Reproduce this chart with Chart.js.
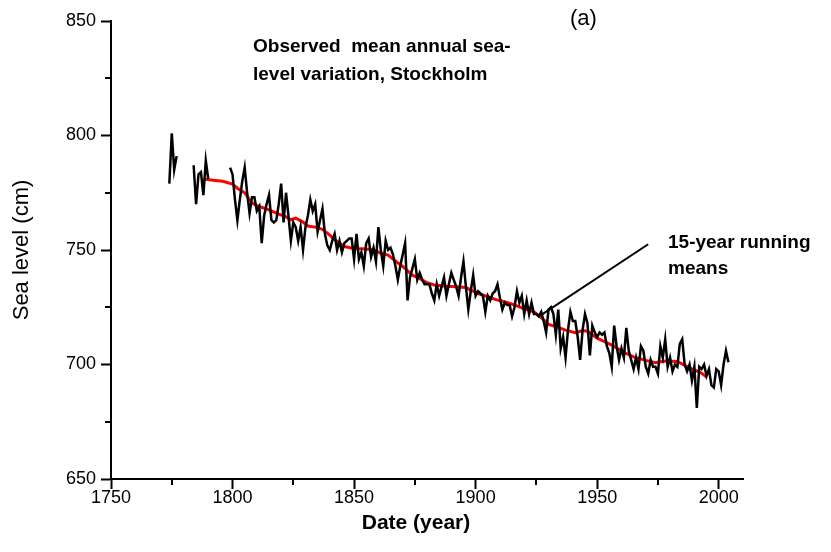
<!DOCTYPE html>
<html>
<head>
<meta charset="utf-8">
<script src="https://cdn.jsdelivr.net/npm/chart.js@4.4.1/dist/chart.umd.min.js"></script>
<style>
    html, body { margin: 0; padding: 0; background: #fff; }
    #wrap { width: 831px; height: 552px; }
</style>
</head>
<body>
<div id="wrap"><canvas id="seaChart" width="831" height="552"></canvas></div>
<script>
// Annual mean sea level (cm), one value per year from firstYear, null = no data
const firstYear = 1774;
const seaLevel = [
    779, 801, 785, 791,
    null, null, null, null, null, null,
    787, 770, 783, 784, 774, 789, 781,
    null, null, null, null, null, null, null, null,
    786, 783, 772, 763, 772, 780, 786, 775, 766, 773, 773,
    767, 769, 753, 765, 770, 774, 763, 762, 763, 770,
    779, 762, 775, 765, 754, 762, 760, 754, 760, 750,
    760, 765, 772, 767, 770, 758, 763, 768, 757, 752,
    750, 754, 757, 750, 754, 749, 753, 754, 755, 755,
    746, 757, 746, 749, 743, 753, 755, 747, 751, 745,
    760, 750, 743, 754, 750, 751, 748, 743, 737, 743,
    748, 753, 728, 738, 742, 746, 737, 740, 737, 735,
    735, 735, 731, 728, 735, 730, 734, 738, 730, 735,
    740, 737, 734, 730, 738, 745, 734, 724, 732, 739,
    730, 732, 731, 730, 723, 730, 728, 731, 732, 735,
    729, 724, 727, 726, 726, 721, 725, 732, 727, 730,
    722, 728, 722, 727, 722, 722, 721, 723, 719, 714,
    724, 725, 722, 713, 724, 707, 712, 703, 715, 723,
    719, 719, 712, 702, 715, 722, 718, 704, 717, 714,
    712, 714, 713, 714, 708, 705, 699, 717, 708, 702,
    707, 703, 716, 706, 702, 698, 703, 698, 708, 706,
    699, 696, 702, 699, 699, 696, 708, 703, 711, 699,
    703, 697, 700, 699, 709, 711, 700, 697, 700, 693,
    699, 681, 699, 698, 700, 695, 698, 691, 690, 698,
    697, 691, 700, 706, 701
];

// 15-year running means (red curve)
const meanYears = [1788, 1792, 1796, 1800, 1802, 1805, 1808, 1811, 1815, 1819,
    1822, 1824, 1826, 1829, 1831, 1834, 1837, 1840, 1842, 1846,
    1850, 1854, 1858, 1861, 1864, 1867, 1870, 1874, 1877, 1880,
    1883, 1888, 1892, 1896, 1901, 1905, 1909, 1912, 1916, 1920,
    1924, 1927, 1930, 1934, 1937, 1941, 1944, 1946, 1950, 1953,
    1956, 1961, 1965, 1970, 1974, 1978, 1983, 1987, 1990, 1993, 1995];
const meanLevel = [781, 780.5, 780, 778.8, 777, 775, 770.5, 769, 767.5, 765.7,
    764.5, 763.2, 763.9, 762.2, 760.5, 760, 759, 756.5, 754.5, 751.5,
    750.7, 750.5, 750, 748.6, 747.8, 745.2, 742.8, 739, 737.6, 735.7,
    734.7, 734.2, 733.9, 733.6, 731, 729.6, 728.1, 727.4, 726, 724.3,
    723, 720.5, 717.5, 716.2, 715, 713.9, 714.8, 714.5, 711.5, 710,
    708.5, 705.3, 703.3, 701.8, 700.8, 701.5, 701.3, 699.1, 697.6, 696.2, 694.5];

// pointer from the label to the curve
const pointerYears = [1927.5, 1971];
const pointerLevel = [722, 752.5];

const xTicks = [1750, 1800, 1850, 1900, 1950, 2000];
const yTicks = [650, 700, 750, 800, 850];

const FONT = '"Liberation Sans", Arial, sans-serif';

const annualPoints = seaLevel.map((v, i) => ({ x: firstYear + i, y: v }));
const meanPoints = meanYears.map((yr, i) => ({ x: yr, y: meanLevel[i] }));
const pointerPoints = pointerYears.map((yr, i) => ({ x: yr, y: pointerLevel[i] }));

// minor ticks halfway between the major ones
function midpoints(arr) {
    const out = [];
    for (let i = 0; i < arr.length - 1; i++) out.push((arr[i] + arr[i + 1]) / 2);
    return out;
}

const extrasPlugin = {
    id: 'extras',
    afterDraw(chart) {
        const ctx = chart.ctx;
        const xs = chart.scales.x;
        const ys = chart.scales.y;
        ctx.save();
        ctx.strokeStyle = '#000';
        ctx.lineWidth = 2;
        midpoints(xTicks).forEach(v => {
            const px = Math.round(xs.getPixelForValue(v));
            ctx.beginPath();
            ctx.moveTo(px, ys.bottom);
            ctx.lineTo(px, ys.bottom + 6);
            ctx.stroke();
        });
        midpoints(yTicks).forEach(v => {
            const py = Math.round(ys.getPixelForValue(v));
            ctx.beginPath();
            ctx.moveTo(xs.left - 6, py);
            ctx.lineTo(xs.left, py);
            ctx.stroke();
        });

        ctx.fillStyle = '#000';
        ctx.textBaseline = 'middle';
        ctx.textAlign = 'left';
        ctx.font = 'bold 19px ' + FONT;
        ctx.fillText('Observed  mean annual sea-', 253, 47);
        ctx.fillText('level variation, Stockholm', 253, 75);

        ctx.font = 'bold 19px ' + FONT;
        ctx.fillText('15-year running', 668, 243);
        ctx.fillText('means', 668, 269);

        ctx.font = '22px ' + FONT;
        ctx.fillText('(a)', 570, 19);

        ctx.textAlign = 'center';
        ctx.font = 'bold 21px ' + FONT;
        ctx.fillText('Date (year)', 416, 523);

        ctx.font = '22px ' + FONT;
        ctx.translate(22, 250);
        ctx.rotate(-Math.PI / 2);
        ctx.fillText('Sea level (cm)', 0, 0);
        ctx.restore();
    }
};

const ctx = document.getElementById('seaChart').getContext('2d');
const seaChart = new Chart(ctx, {
    type: 'line',
    data: {
        datasets: [
            {
                label: 'Annual mean',
                data: annualPoints,
                borderColor: '#000',
                borderWidth: 2.5,
                pointRadius: 0,
                spanGaps: false,
                tension: 0
            },
            {
                label: '15-year running means',
                data: meanPoints,
                borderColor: '#ff0000',
                borderWidth: 3,
                pointRadius: 0,
                tension: 0
            },
            {
                label: 'pointer',
                data: pointerPoints,
                borderColor: '#000',
                borderWidth: 2,
                pointRadius: 0,
                tension: 0
            }
        ]
    },
    options: {
        responsive: false,
        animation: false,
        devicePixelRatio: 1,
        layout: { padding: { top: 21, right: 88, left: 0, bottom: 0 } },
        plugins: {
            legend: { display: false },
            tooltip: { enabled: false }
        },
        scales: {
            x: {
                type: 'linear',
                min: 1750,
                max: 2010,
                afterBuildTicks: s => { s.ticks = xTicks.map(v => ({ value: v })); },
                afterFit: s => { s.height = 73; },
                border: { display: true, color: '#000', width: 2 },
                grid: { drawOnChartArea: false, drawTicks: true, tickLength: 10, tickColor: '#000', tickWidth: 2 },
                ticks: {
                    color: '#000', font: { family: FONT, size: 18 }, padding: -2, maxRotation: 0, autoSkip: false,
                    callback: v => String(v)
                }
            },
            y: {
                min: 650,
                max: 850,
                afterBuildTicks: s => { s.ticks = yTicks.map(v => ({ value: v })); },
                afterFit: s => { s.width = 111; },
                border: { display: true, color: '#000', width: 2 },
                grid: { drawOnChartArea: false, drawTicks: true, tickLength: 10, tickColor: '#000', tickWidth: 2 },
                ticks: {
                    color: '#000', font: { family: FONT, size: 18 }, padding: 5, autoSkip: false,
                    callback: v => String(v)
                }
            }
        }
    },
    plugins: [extrasPlugin]
});
</script>
</body>
</html>
